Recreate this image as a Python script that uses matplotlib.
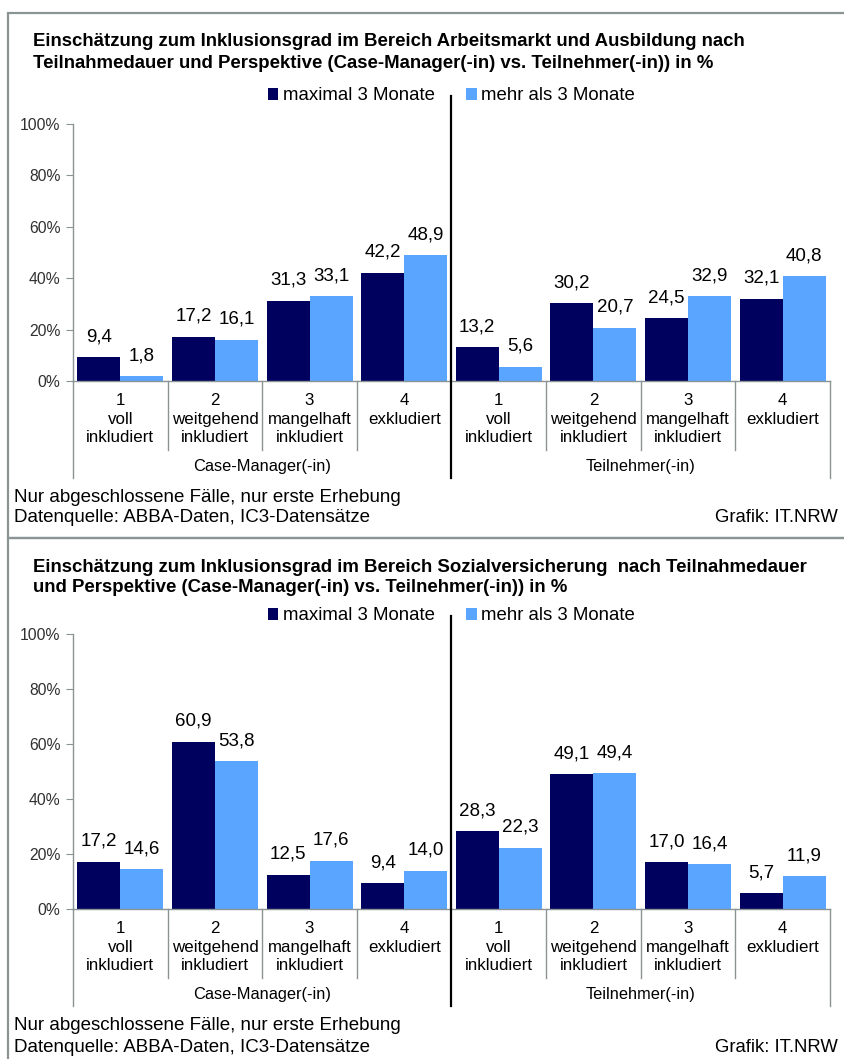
import matplotlib
matplotlib.use("Agg")
import matplotlib.pyplot as plt
from matplotlib.patches import Rectangle

plt.rcParams['font.family'] = ['Liberation Sans', 'DejaVu Sans']

W, H = 845, 1059
DARK = '#00005e'
LIGHT = '#5aa5ff'
GREY = '#8a9494'

categories = ['1\nvoll\ninkludiert', '2\nweitgehend\ninkludiert',
              '3\nmangelhaft\ninkludiert', '4\nexkludiert']
groups = ['Case-Manager(-in)', 'Teilnehmer(-in)']
series_names = ['maximal 3 Monate', 'mehr als 3 Monate']
yticks = [0, 20, 40, 60, 80, 100]

# Arbeitsmarkt und Ausbildung: Case-Manager 1-4, Teilnehmer 1-4
arbeit_max3 = [9.4, 17.2, 31.3, 42.2, 13.2, 30.2, 24.5, 32.1]
arbeit_mehr3 = [1.8, 16.1, 33.1, 48.9, 5.6, 20.7, 32.9, 40.8]
# Sozialversicherung
sozial_max3 = [17.2, 60.9, 12.5, 9.4, 28.3, 49.1, 17.0, 5.7]
sozial_mehr3 = [14.6, 53.8, 17.6, 14.0, 22.3, 49.4, 16.4, 11.9]

title_arbeit = ["Einschätzung zum Inklusionsgrad im Bereich Arbeitsmarkt und Ausbildung nach",
                "Teilnahmedauer und Perspektive (Case-Manager(-in) vs. Teilnehmer(-in)) in %"]
title_sozial = ["Einschätzung zum Inklusionsgrad im Bereich Sozialversicherung  nach Teilnahmedauer",
                "und Perspektive (Case-Manager(-in) vs. Teilnehmer(-in)) in %"]
footer1 = "Nur abgeschlossene Fälle, nur erste Erhebung"
footer2 = "Datenquelle: ABBA-Daten, IC3-Datensätze"
credit = "Grafik: IT.NRW"

fig = plt.figure(figsize=(W / 100, H / 100), dpi=100)


def fy(y):
    return 1 - y / H


def panel(title, max3, mehr3, title_y, legend_y, ax_top, ax_bottom, foot_y):
    x0, x1 = 73, 830
    ax = fig.add_axes([x0 / W, fy(ax_bottom), (x1 - x0) / W, (ax_bottom - ax_top) / H])
    axh = ax_bottom - ax_top

    for k, line in enumerate(title):
        fig.text(33 / W, fy(title_y + 21 * k), line, fontsize=13.4, fontweight='bold',
                 va='center', ha='left')

    n = len(max3)
    xs = list(range(n))
    bw = 0.455
    b1 = ax.bar([x - bw / 2 for x in xs], max3, bw, color=DARK, label=series_names[0])
    b2 = ax.bar([x + bw / 2 for x in xs], mehr3, bw, color=LIGHT, label=series_names[1])
    for bars, vals in ((b1, max3), (b2, mehr3)):
        for b, v in zip(bars, vals):
            ax.annotate(f"{v:.1f}".replace('.', ','), (b.get_x() + b.get_width() / 2, v),
                        xytext=(0, 8.5), textcoords='offset points', ha='center',
                        va='bottom', fontsize=13.5)

    ax.set_xlim(-0.5, n - 0.5)
    ax.set_ylim(0, 100)
    ax.set_yticks(yticks)
    ax.set_yticklabels([f"{t}%" for t in yticks], fontsize=11.3, color='#303030')
    ax.set_xticks([])
    for s in ('top', 'right'):
        ax.spines[s].set_visible(False)
    for s in ('left', 'bottom'):
        ax.spines[s].set_color(GREY)
        ax.spines[s].set_linewidth(1)
    ax.tick_params(axis='y', length=5, color=GREY, pad=4)

    tr = ax.get_xaxis_transform()
    # category labels
    for i in range(n):
        ax.annotate(categories[i % 4], (i, 0), xycoords=tr, xytext=(0, -12 * 0.72),
                    textcoords='offset points', ha='center', va='top', fontsize=12.2,
                    linespacing=1.3)
    for g, name in enumerate(groups):
        ax.annotate(name, (g * 4 + 1.5, 0), xycoords=tr, xytext=(0, -86 * 0.72),
                    textcoords='offset points', ha='center', va='center', fontsize=11.8)
    # separators
    inner = -69 / axh
    outer = -97 / axh
    for i in range(1, n):
        if i % 4:
            ax.plot([i - 0.5, i - 0.5], [0, inner], transform=tr, color=GREY, lw=1,
                    clip_on=False)
    for xv in (-0.5, n - 0.5):
        ax.plot([xv, xv], [0, outer], transform=tr, color=GREY, lw=1, clip_on=False)
    ax.plot([3.5, 3.5], [1 + (ax_top - legend_y) / axh, outer], transform=tr,
            color='black', lw=1.6, clip_on=False, zorder=5)

    ax.legend(loc='center', bbox_to_anchor=(0.5, 1 + (ax_top - legend_y) / axh), ncol=2,
              frameon=False, fontsize=13.4, handlelength=0.55, handleheight=0.55,
              handletextpad=0.25, columnspacing=1.7, borderaxespad=0)

    fig.text(14 / W, fy(foot_y), footer1, fontsize=13.5, va='center', ha='left')
    fig.text(14 / W, fy(foot_y + 21), footer2, fontsize=13.5, va='center', ha='left')
    fig.text(838 / W, fy(foot_y + 21), credit, fontsize=13.3, va='center', ha='right')
    return ax


panel(title_arbeit, arbeit_max3, arbeit_mehr3, 42, 96, 124, 381, 497)
panel(title_sozial, sozial_max3, sozial_mehr3, 567, 616, 634, 909, 1026)

# panel frames
fig.add_artist(Rectangle((8 / W, fy(538)), 1, (538 - 13) / H, transform=fig.transFigure,
                         fill=False, edgecolor=GREY, lw=1.6))
fig.add_artist(Rectangle((8 / W, -0.1), 1, fy(538) + 0.1, transform=fig.transFigure,
                         fill=False, edgecolor=GREY, lw=1.6))

fig.savefig('out.png', dpi=100)
